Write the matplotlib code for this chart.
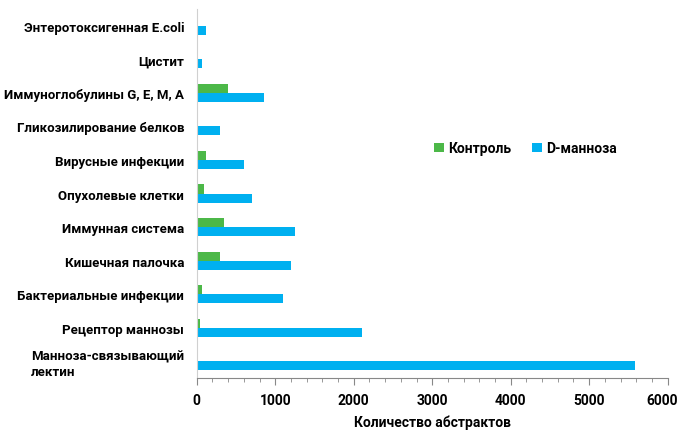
import matplotlib
matplotlib.use("Agg")
import matplotlib.pyplot as plt
import matplotlib.transforms as mtransforms
import numpy as np
from matplotlib.ticker import MultipleLocator

plt.rcParams['font.family'] = ['Roboto', 'DejaVu Sans']
plt.rcParams['font.weight'] = 'bold'

# categories listed bottom to top
categories = [
    "Манноза-связывающий\nлектин",
    "Рецептор маннозы",
    "Бактериальные инфекции",
    "Кишечная палочка",
    "Иммунная система",
    "Опухолевые клетки",
    "Вирусные инфекции",
    "Гликозилирование белков",
    "Иммуноглобулины G, E, M, A",
    "Цистит",
    "Энтеротоксигенная E.coli",
]
control = [13, 42, 72, 297, 348, 93, 115, 10, 403, 10, 10]
d_mannose = [5585, 2106, 1104, 1197, 1252, 701, 599, 297, 857, 68, 115]
x_ticks = [0, 1000, 2000, 3000, 4000, 5000, 6000]

green = "#4cb848"
blue = "#00b0f0"

fig = plt.figure(figsize=(6.8, 4.31), dpi=100)
ax = fig.add_axes((0.2893, 0.1206, 0.6926, 0.8562))

y = np.arange(len(categories))
h = 0.27
ax.barh(y + h / 2, control, height=h, color=green, label="Контроль")
ax.barh(y - h / 2, d_mannose, height=h, color=blue, label="D-манноза")

ax.set_xlim(0, 6000)
ax.set_ylim(-0.5, len(categories) - 0.5)
ax.set_xticks(x_ticks, [str(t) for t in x_ticks])
ax.xaxis.set_minor_locator(MultipleLocator(200))
ax.set_yticks(y, categories)
for lbl in ax.get_yticklabels():
    lbl.set_multialignment('left')
    lbl.set_fontsize(9.5)
    lbl.set_fontweight('bold')
ax.tick_params(axis='y', length=0, pad=9)
ax.tick_params(axis='x', which='major', length=5, color='#888888', labelsize=10, pad=6)
ax.tick_params(axis='x', which='minor', length=3, color='#888888')

for side in ['top', 'right']:
    ax.spines[side].set_visible(False)
ax.spines['left'].set_color('#d0d0d0')
ax.spines['bottom'].set_color('#888888')

ax.set_xlabel("Количество абстрактов", fontsize=10, fontweight='bold', labelpad=5)

ax.legend(loc='upper left', bbox_to_anchor=(0.478, 0.675), ncol=2, frameon=False,
          handlelength=0.7, handleheight=0.7, handletextpad=0.3,
          columnspacing=1.5, prop={'weight': 'bold', 'size': 10})

fig.canvas.draw()
# keep the last tick label inside the figure
last = ax.get_xticklabels()[-1]
last.set_transform(last.get_transform() + mtransforms.ScaledTranslation(-6 / 100, 0, fig.dpi_scale_trans))

fig.savefig("out.png", dpi=100, facecolor='white')
